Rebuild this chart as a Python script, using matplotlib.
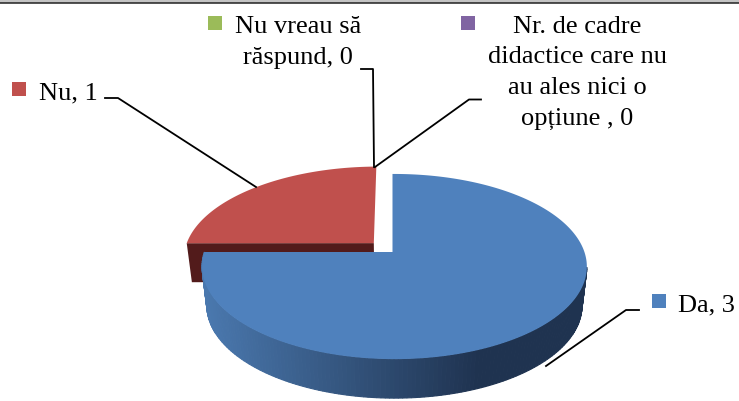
# 3D looking pie, drawn by hand because matplotlib has no perspective pie
import numpy as np
import matplotlib
matplotlib.use('Agg')
import matplotlib.pyplot as plt
from matplotlib.colors import to_rgb

# data
categories = ['Da', 'Nu', 'Nu vreau să răspund',
              'Nr. de cadre didactice care nu au ales nici o opțiune ']
values = [3, 1, 0, 0]
colors = ['#4F81BD', '#C0504D', '#9BBB59', '#8064A2']
side_dark = ['#1F3350', '#521B1B', '#4A5A2A', '#3D3050']
explode = [(0.0, 0.0), (-0.1, 0.1), (0.0, 0.0), (0.0, 0.0)]
radius = [1.0, 1.012, 1.0, 1.0]

# perspective settings, all in pixels of the 739x401 picture
APEX_X, APEX_Y = 392.5, 252.0
RX, RY = 190.0, 90.3
TILT, SKEW = 0.157, -0.01
DEPTH = 39.0
BOTTOM_SCALE = 0.975


def project(u, v):
    # unit disk -> screen
    w = 1 + TILT * v + SKEW * u
    return APEX_X + RX * u / w, APEX_Y - RY * v / w


def lower(x, y):
    # the same point on the bottom face of the pie
    return APEX_X + (x - APEX_X) * BOTTOM_SCALE, y + DEPTH


def side_color(x):
    # lighter on the left, dark from x=480 onward
    t = np.clip((x - 205) / 275, 0, 1)
    return tuple((1 - t) * np.array(to_rgb('#4A78AE')) + t * np.array(to_rgb('#1F3350')))


fig = plt.figure(figsize=(7.39, 4.01), dpi=100)
ax = fig.add_axes([0, 0, 1, 1])
ax.set_xlim(0, 739)
ax.set_ylim(401, 0)
ax.axis('off')

# frame at the top of the picture
ax.fill_between([0, 739], 0, 2.5, color='#C4C4C4', lw=0)
ax.plot([0, 739], [3.3, 3.3], color='#222222', lw=1.1)

# slice angles come from the values, clockwise from the top
total = sum(values)
angles = []
start = 90.0
for val in values:
    sweep = 360.0 * val / total
    angles.append((start, start - sweep))
    start -= sweep

# back slice first so the big one covers it
for i in [1, 0]:
    a0, a1 = np.radians(angles[i][0]), np.radians(angles[i][1])
    t = np.linspace(a0, a1, 240)
    u0, v0 = explode[i]
    xs, ys = project(u0 + radius[i] * np.cos(t), v0 + radius[i] * np.sin(t))
    ax_, ay_ = project(u0, v0)

    if i == 0:
        # rounded side with the shading, only the front shows
        for j in range(len(t) - 1):
            if np.sin(t[j]) > -0.16 and np.cos(t[j]) > 0:
                continue
            x2, y2 = lower(xs[j:j + 2], ys[j:j + 2])
            c = side_color(xs[j])
            ax.fill([xs[j], xs[j + 1], x2[1], x2[0]], [ys[j], ys[j + 1], y2[1], y2[0]],
                    facecolor=c, edgecolor=c, lw=0.8, zorder=2)
    else:
        # flat cut face of the red slice, the end of the arc at the left
        lx = xs[np.argmin(xs)]
        ly = ys[np.argmin(xs)]
        x2, y2 = lower(np.array([lx, ax_]), np.array([ly, ay_]))
        ax.fill([lx, ax_, x2[1], x2[0]], [ly, ay_, y2[1], y2[0]],
                color=side_dark[i], lw=0, zorder=1)

    ax.fill(np.r_[ax_, xs], np.r_[ay_, ys], color=colors[i], lw=0, zorder=3 if i == 0 else 1.5)

# leader lines
ax.plot([105, 118, 256], [98, 98, 187], color='black', lw=1.3, zorder=4)
ax.plot([361, 373, 374], [69, 69, 167], color='black', lw=1.3, zorder=4)
ax.plot([481, 469, 375], [99.5, 99.5, 167], color='black', lw=1.3, zorder=4)
ax.plot([639, 626, 546], [310, 310, 366], color='black', lw=1.3, zorder=4)

# labels
font = dict(family='Liberation Serif', fontsize=19.0, color='black', va='baseline')
label_lines = [
    ('Da, %d' % values[0], 678, 311, 'left'),
    ('Nu, %d' % values[1], 39, 99, 'left'),
    ('Nu vreau să', 298.5, 33, 'center'),
    ('răspund, %d' % values[2], 298, 64, 'center'),
    ('Nr. de cadre', 577, 33, 'center'),
    ('didactice care nu', 577, 63, 'center'),
    ('au ales nici o', 577, 94, 'center'),
    ('opțiune , %d' % values[3], 577, 125, 'center'),
]
for txt, x, y, ha in label_lines:
    ax.text(x, y, txt, ha=ha, **font)

# legend keys beside the labels
key_pos = [(652, 294), (12, 82), (208, 16), (461, 16)]
for (x, y), c in zip(key_pos, colors):
    ax.fill([x, x + 14, x + 14, x], [y, y, y + 14, y + 14], color=c, lw=0)

fig.savefig('out.png', dpi=100)
